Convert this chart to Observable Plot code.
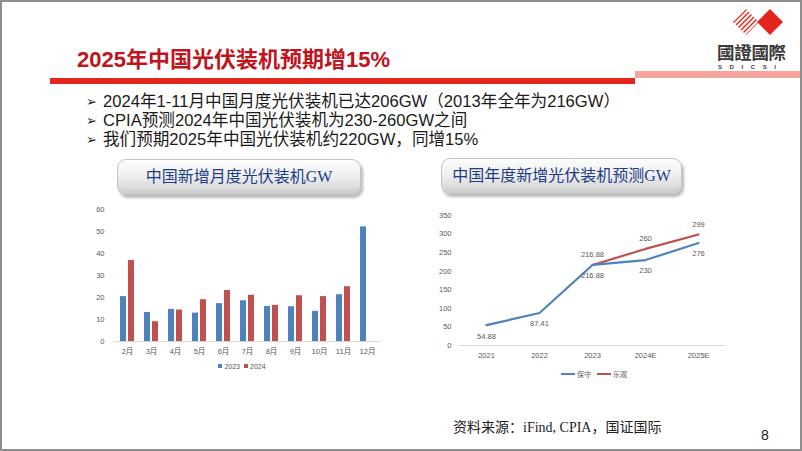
<!DOCTYPE html>
<html>
<head>
<meta charset="utf-8">
<script src="https://cdn.jsdelivr.net/npm/d3@7"></script>
<script src="https://cdn.jsdelivr.net/npm/@observablehq/plot@0.6"></script>
<style>
  html, body { margin:0; padding:0; background:#fff; }
  #slide { position:relative; width:802px; height:451px; overflow:hidden; box-sizing:border-box; border:2px solid #8e8e8e; background:#fff;
    font-family:"Liberation Sans","Noto Sans CJK SC",sans-serif; }
  .abs { position:absolute; }
  #title { left:75px; top:46px; font-size:22px; line-height:24px; font-weight:bold; color:#C0141E; white-space:nowrap;
    font-family:"Liberation Sans","Noto Sans CJK SC",sans-serif; }
  #redbar { left:48px; top:76px; width:585px; height:6px; background:#E3261B; }
  #pinkbar { left:633px; top:69px; width:170px; height:7px; background:#F6A59E; }
  .arr { left:84px; font-size:13px; line-height:19px; color:#1a1a1a; font-family:"DejaVu Sans",sans-serif; }
  .bullet { left:101px; font-size:16.6px; line-height:19px; color:#1a1a1a; white-space:nowrap; }
  .pill { height:36px; border-radius:9px; border:1px solid #c4c4c4; box-sizing:border-box;
    background:linear-gradient(#fdfdfd 0%, #f0f0f0 45%, #dcdcdc 80%, #c9c9c9 100%);
    box-shadow:2px 3px 3px rgba(0,0,0,0.28); text-align:center; line-height:34px; font-size:16px; color:#1F3C88;
    font-family:"Liberation Serif","Noto Sans CJK SC",serif; white-space:nowrap; }
  .legend { font-size:7px; color:#595959; text-align:center; white-space:nowrap; }
  .legend .sw { display:inline-block; width:4px; height:4px; margin:0 2px 0 4px; vertical-align:1px; }
  .legend .ln { display:inline-block; width:14px; height:2px; margin:0 2px 0 6px; vertical-align:2px; }
  #source { left:451px; top:417px; font-size:14px; line-height:18px; color:#222; white-space:nowrap;
    font-family:"Liberation Serif","Noto Sans CJK SC",serif; }
  #page { left:759px; top:424px; font-size:14px; line-height:18px; color:#222; }
  #logotext { left:715px; top:41px; font-size:17.5px; line-height:17px; font-weight:bold; color:#3a3a3a; letter-spacing:-0.3px;
    font-family:"Noto Sans CJK TC",sans-serif; white-space:nowrap; }
  #logosub { left:716px; top:62px; width:76px; font-size:6px; line-height:6px; font-weight:bold; color:#3a3a3a; letter-spacing:7.6px; white-space:nowrap; }
</style>
</head>
<body>
<div id="slide">
  <svg class="abs" style="left:724px;top:4px" width="60" height="32" viewBox="0 0 60 32">
    <defs><clipPath id="cp"><polygon points="20,3 33,16 20,29 7,16"/></clipPath></defs>
    <polygon points="44,3 57,16 44,29 31,16" fill="#E3261B"/>
    <g clip-path="url(#cp)" stroke="#E3261B" stroke-width="1.4">
      <line x1="0" y1="24" x2="24" y2="0"/><line x1="2" y1="27" x2="27" y2="2"/>
      <line x1="4" y1="30" x2="30" y2="4"/><line x1="7" y1="32" x2="33" y2="6"/>
      <line x1="10" y1="34" x2="36" y2="8"/><line x1="13" y1="36" x2="39" y2="10"/>
      <line x1="16" y1="38" x2="42" y2="12"/><line x1="-3" y1="21" x2="21" y2="-3"/>
    </g>
  </svg>
  <div id="logotext" class="abs">國證國際</div>
  <div id="logosub" class="abs">SDICSI</div>

  <div id="title" class="abs">2025年中国光伏装机预期增15%</div>
  <div id="redbar" class="abs"></div>
  <div id="pinkbar" class="abs"></div>

  <div class="abs arr" style="top:90px">➢</div>
  <div class="abs arr" style="top:109px">➢</div>
  <div class="abs arr" style="top:128px">➢</div>
  <div class="abs bullet" style="top:90px">2024年1-11月中国月度光伏装机已达206GW（2013年全年为216GW）</div>
  <div class="abs bullet" style="top:109px">CPIA预测2024年中国光伏装机为230-260GW之间</div>
  <div class="abs bullet" style="top:128px">我们预期2025年中国光伏装机约220GW，同增15%</div>

  <div class="abs pill" style="left:115px;top:157px;width:244px;">中国新增月度光伏装机GW</div>
  <div class="abs pill" style="left:439px;top:156px;width:241px;">中国年度新增光伏装机预测GW</div>

  <div id="chart1" class="abs" style="left:78px;top:193px;"></div>
  <div class="abs legend" style="left:78px;top:361px;width:320px;">
    <span class="sw" style="background:#4F81BD"></span>2023<span class="sw" style="background:#C0504D"></span>2024
  </div>

  <div id="chart2" class="abs" style="left:428px;top:198px;"></div>
  <div class="abs legend" style="left:428px;top:367px;width:322px;">
    <span class="ln" style="background:#4F81BD"></span>保守<span class="ln" style="background:#C0504D"></span>乐观
  </div>

  <div id="source" class="abs">资料来源：iFind, CPIA，国证国际</div>
  <div id="page" class="abs">8</div>
</div>

<script>
// ---- Monthly chart data ----
const months = ["2月","3月","4月","5月","6月","7月","8月","9月","10月","11月","12月"];
const installs2023 = [20.4, 13.2, 14.6, 12.9, 17.2, 18.5, 15.9, 15.8, 13.7, 21.3, 52.1];
const installs2024 = [36.8, 9.0, 14.3, 19.0, 23.2, 21.0, 16.4, 20.8, 20.4, 24.9, null];
const monthlyTicks = [0, 10, 20, 30, 40, 50, 60];

// ---- Annual chart data ----
const years = ["2021", "2022", "2023", "2024E", "2025E"];
const conservative = [54.88, 87.41, 216.88, 230, 276];
const optimistic = [null, null, 216.88, 260, 299];
const annualTicks = [0, 50, 100, 150, 200, 250, 300, 350];

const monthly = months.map((month, i) => ({month, v2023: installs2023[i], v2024: installs2024[i]}));
const annual = years.map((year, i) => ({year, cons: conservative[i], opt: optimistic[i]}));

const BLUE = "#4F81BD", RED = "#C0504D";
const axisStyle = {fontFamily: "'Liberation Sans','Noto Sans CJK SC',sans-serif", fontSize: "7.5px", color: "#595959", background: "transparent", overflow: "visible"};

const chart1 = Plot.plot({
  width: 304, height: 162,
  marginLeft: 34, marginRight: 4, marginTop: 14, marginBottom: 16,
  style: axisStyle,
  x: {domain: months, padding: 0, label: null, tickSize: 0, tickPadding: 7},
  y: {domain: [0, 60], ticks: monthlyTicks, label: null, tickSize: 0, tickPadding: 10},
  marks: [
    Plot.barY(monthly.filter(d => d.v2023 != null), {x: "month", y: "v2023", fill: BLUE, insetLeft: 5, insetRight: 13}),
    Plot.barY(monthly.filter(d => d.v2024 != null), {x: "month", y: "v2024", fill: RED, insetLeft: 13, insetRight: 5}),
    Plot.ruleY([0], {stroke: "#D9D9D9"})
  ]
});
document.getElementById("chart1").appendChild(chart1);

const chart2 = Plot.plot({
  width: 304, height: 162,
  marginLeft: 29, marginRight: 9, marginTop: 15, marginBottom: 17,
  style: axisStyle,
  x: {type: "point", domain: years, padding: 0.5, label: null, tickSize: 0, tickPadding: 7},
  y: {domain: [0, 350], ticks: annualTicks, label: null, tickSize: 0, tickPadding: 8},
  marks: [
    Plot.ruleY([0], {stroke: "#D9D9D9"}),
    Plot.line(annual.filter(d => d.opt != null), {x: "year", y: "opt", stroke: RED, strokeWidth: 2.2}),
    Plot.line(annual, {x: "year", y: "cons", stroke: BLUE, strokeWidth: 2.2}),
    Plot.text(annual, {x: "year", y: "cons", text: d => String(d.cons), dy: 11, fill: "#595959", fontSize: 7.5}),
    Plot.text(annual.filter(d => d.opt != null), {x: "year", y: "opt", text: d => String(d.opt), dy: -10, fill: "#595959", fontSize: 7.5})
  ]
});
document.getElementById("chart2").appendChild(chart2);
</script>
</body>
</html>
